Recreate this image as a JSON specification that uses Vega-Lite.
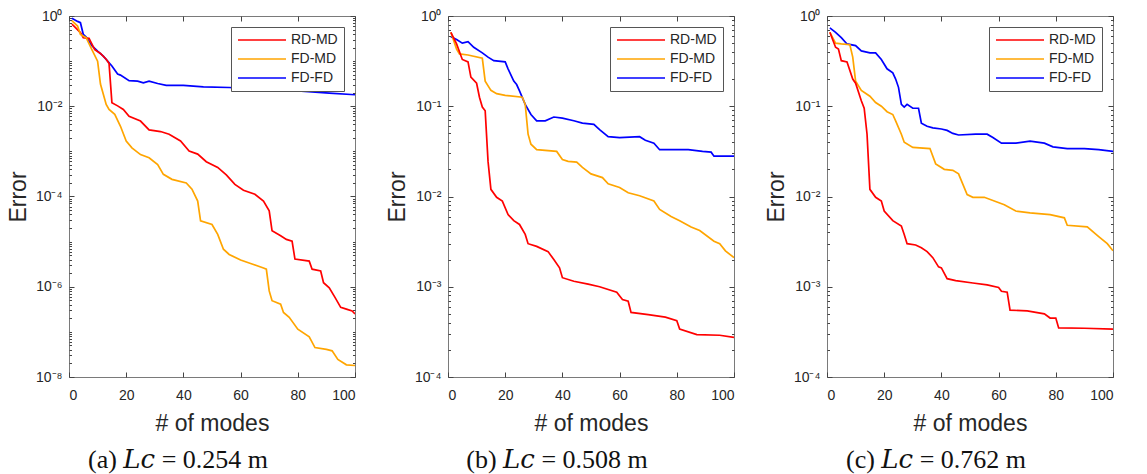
{
  "$schema": "https://vega.github.io/schema/vega-lite/v6.json",
  "background": "white",
  "padding": {"left": 6, "top": 8, "right": 5, "bottom": 2},
  "bounds": "flush",
  "spacing": 93,
  "config": {
    "font": "Liberation Sans",
    "view": {"stroke": "#7a7a7a", "strokeWidth": 1},
    "axis": {
      "domain": false,
      "grid": false,
      "tickColor": "#444444",
      "labelColor": "#262626",
      "labelFontSize": 14,
      "labelOverlap": false,
      "titleColor": "#262626",
      "titleFontSize": 23,
      "titleFontWeight": "normal"
    },
    "legend": {
      "orient": "top-right",
      "offset": 11,
      "title": null,
      "strokeColor": "#555555",
      "fillColor": "white",
      "padding": 6,
      "labelFontSize": 14,
      "labelColor": "#262626",
      "symbolType": "M-4,0H4",
      "symbolSize": 144,
      "symbolOffset": 18,
      "labelOffset": 22,
      "symbolStrokeWidth": 1.5,
      "rowPadding": 5
    },
    "title": {"font": "Liberation Serif, DejaVu Serif", "fontSize": 26, "fontWeight": "normal", "color": "#111111"}
  },
  "datasets": {
    "a": [
      {"s":"FD-FD","n":1,"e":0.89},{"s":"FD-FD","n":3,"e":0.76},{"s":"FD-FD","n":4,"e":0.71},{"s":"FD-FD","n":5,"e":0.39},{"s":"FD-FD","n":6,"e":0.34},{"s":"FD-FD","n":8,"e":0.22},{"s":"FD-FD","n":10,"e":0.166},{"s":"FD-FD","n":12,"e":0.129},{"s":"FD-FD","n":15,"e":0.078},{"s":"FD-FD","n":17,"e":0.052},{"s":"FD-FD","n":18,"e":0.049},{"s":"FD-FD","n":21,"e":0.037},{"s":"FD-FD","n":24,"e":0.036},{"s":"FD-FD","n":26,"e":0.033},{"s":"FD-FD","n":28,"e":0.036},{"s":"FD-FD","n":31,"e":0.032},{"s":"FD-FD","n":34,"e":0.029},{"s":"FD-FD","n":40,"e":0.029},{"s":"FD-FD","n":47,"e":0.027},{"s":"FD-FD","n":56,"e":0.026},{"s":"FD-FD","n":62,"e":0.025},{"s":"FD-FD","n":68,"e":0.024},{"s":"FD-FD","n":80,"e":0.022},{"s":"FD-FD","n":91,"e":0.0195},{"s":"FD-FD","n":100,"e":0.018},
      {"s":"RD-MD","n":1,"e":0.66},{"s":"RD-MD","n":2,"e":0.575},{"s":"RD-MD","n":4,"e":0.43},{"s":"RD-MD","n":5,"e":0.33},{"s":"RD-MD","n":7,"e":0.32},{"s":"RD-MD","n":9,"e":0.18},{"s":"RD-MD","n":11,"e":0.148},{"s":"RD-MD","n":13,"e":0.11},{"s":"RD-MD","n":14,"e":0.089},{"s":"RD-MD","n":15,"e":0.012},{"s":"RD-MD","n":17,"e":0.0102},{"s":"RD-MD","n":19,"e":0.0085},{"s":"RD-MD","n":21,"e":0.006},{"s":"RD-MD","n":25,"e":0.0047},{"s":"RD-MD","n":28,"e":0.003},{"s":"RD-MD","n":32,"e":0.00275},{"s":"RD-MD","n":35,"e":0.0024},{"s":"RD-MD","n":39,"e":0.0017},{"s":"RD-MD","n":42,"e":0.00102},{"s":"RD-MD","n":45,"e":0.00087},{"s":"RD-MD","n":48,"e":0.00059},{"s":"RD-MD","n":52,"e":0.00044},{"s":"RD-MD","n":55,"e":0.0003},{"s":"RD-MD","n":58,"e":0.000186},{"s":"RD-MD","n":61,"e":0.000138},{"s":"RD-MD","n":65,"e":0.000112},{"s":"RD-MD","n":68,"e":0.000079},{"s":"RD-MD","n":70,"e":0.000048},{"s":"RD-MD","n":71,"e":0.0000174},{"s":"RD-MD","n":74,"e":0.0000135},{"s":"RD-MD","n":76,"e":0.0000112},{"s":"RD-MD","n":78,"e":0.0000102},{"s":"RD-MD","n":79,"e":0.0000041},{"s":"RD-MD","n":84,"e":0.0000037},{"s":"RD-MD","n":85,"e":0.00000245},{"s":"RD-MD","n":88,"e":0.00000224},{"s":"RD-MD","n":89,"e":0.00000123},{"s":"RD-MD","n":91,"e":0.00000095},{"s":"RD-MD","n":93,"e":0.00000058},{"s":"RD-MD","n":95,"e":0.00000035},{"s":"RD-MD","n":97,"e":0.00000032},{"s":"RD-MD","n":99,"e":0.00000029},{"s":"RD-MD","n":100,"e":0.00000025},
      {"s":"FD-MD","n":1,"e":0.79},{"s":"FD-MD","n":3,"e":0.6},{"s":"FD-MD","n":4,"e":0.39},{"s":"FD-MD","n":6,"e":0.33},{"s":"FD-MD","n":8,"e":0.18},{"s":"FD-MD","n":10,"e":0.1},{"s":"FD-MD","n":11,"e":0.031},{"s":"FD-MD","n":13,"e":0.011},{"s":"FD-MD","n":14,"e":0.0085},{"s":"FD-MD","n":16,"e":0.0066},{"s":"FD-MD","n":18,"e":0.0036},{"s":"FD-MD","n":20,"e":0.0017},{"s":"FD-MD","n":22,"e":0.0012},{"s":"FD-MD","n":25,"e":0.00085},{"s":"FD-MD","n":28,"e":0.00072},{"s":"FD-MD","n":31,"e":0.00051},{"s":"FD-MD","n":33,"e":0.00031},{"s":"FD-MD","n":36,"e":0.00024},{"s":"FD-MD","n":41,"e":0.0002},{"s":"FD-MD","n":43,"e":0.000145},{"s":"FD-MD","n":45,"e":0.000079},{"s":"FD-MD","n":46,"e":0.000029},{"s":"FD-MD","n":50,"e":0.000024},{"s":"FD-MD","n":52,"e":0.0000145},{"s":"FD-MD","n":54,"e":0.0000068},{"s":"FD-MD","n":56,"e":0.0000052},{"s":"FD-MD","n":60,"e":0.0000039},{"s":"FD-MD","n":64,"e":0.0000032},{"s":"FD-MD","n":68,"e":0.0000026},{"s":"FD-MD","n":69,"e":0.00000245},{"s":"FD-MD","n":70,"e":0.00000081},{"s":"FD-MD","n":71,"e":0.00000049},{"s":"FD-MD","n":74,"e":0.00000041},{"s":"FD-MD","n":75,"e":0.00000027},{"s":"FD-MD","n":77,"e":0.00000021},{"s":"FD-MD","n":80,"e":0.000000115},{"s":"FD-MD","n":84,"e":0.000000078},{"s":"FD-MD","n":86,"e":0.000000045},{"s":"FD-MD","n":90,"e":0.000000041},{"s":"FD-MD","n":92,"e":0.000000038},{"s":"FD-MD","n":94,"e":0.0000000245},{"s":"FD-MD","n":97,"e":0.0000000186},{"s":"FD-MD","n":100,"e":0.000000018}
    ],
    "b": [
      {"s":"FD-FD","n":1,"e":0.59},{"s":"FD-FD","n":3,"e":0.55},{"s":"FD-FD","n":5,"e":0.5},{"s":"FD-FD","n":7,"e":0.52},{"s":"FD-FD","n":9,"e":0.45},{"s":"FD-FD","n":12,"e":0.39},{"s":"FD-FD","n":14,"e":0.35},{"s":"FD-FD","n":16,"e":0.32},{"s":"FD-FD","n":20,"e":0.31},{"s":"FD-FD","n":21,"e":0.26},{"s":"FD-FD","n":23,"e":0.19},{"s":"FD-FD","n":24,"e":0.174},{"s":"FD-FD","n":25,"e":0.148},{"s":"FD-FD","n":27,"e":0.105},{"s":"FD-FD","n":29,"e":0.081},{"s":"FD-FD","n":31,"e":0.069},{"s":"FD-FD","n":34,"e":0.069},{"s":"FD-FD","n":37,"e":0.076},{"s":"FD-FD","n":40,"e":0.074},{"s":"FD-FD","n":44,"e":0.069},{"s":"FD-FD","n":47,"e":0.065},{"s":"FD-FD","n":51,"e":0.063},{"s":"FD-FD","n":53,"e":0.055},{"s":"FD-FD","n":56,"e":0.046},{"s":"FD-FD","n":60,"e":0.045},{"s":"FD-FD","n":67,"e":0.046},{"s":"FD-FD","n":69,"e":0.042},{"s":"FD-FD","n":72,"e":0.039},{"s":"FD-FD","n":74,"e":0.033},{"s":"FD-FD","n":78,"e":0.033},{"s":"FD-FD","n":84,"e":0.033},{"s":"FD-FD","n":89,"e":0.0316},{"s":"FD-FD","n":92,"e":0.031},{"s":"FD-FD","n":93,"e":0.028},{"s":"FD-FD","n":100,"e":0.028},
      {"s":"FD-MD","n":1,"e":0.66},{"s":"FD-MD","n":3,"e":0.43},{"s":"FD-MD","n":4,"e":0.38},{"s":"FD-MD","n":7,"e":0.37},{"s":"FD-MD","n":12,"e":0.34},{"s":"FD-MD","n":13,"e":0.19},{"s":"FD-MD","n":15,"e":0.15},{"s":"FD-MD","n":17,"e":0.138},{"s":"FD-MD","n":20,"e":0.132},{"s":"FD-MD","n":26,"e":0.126},{"s":"FD-MD","n":27,"e":0.105},{"s":"FD-MD","n":28,"e":0.049},{"s":"FD-MD","n":29,"e":0.038},{"s":"FD-MD","n":31,"e":0.033},{"s":"FD-MD","n":38,"e":0.0316},{"s":"FD-MD","n":40,"e":0.0257},{"s":"FD-MD","n":42,"e":0.0245},{"s":"FD-MD","n":45,"e":0.024},{"s":"FD-MD","n":47,"e":0.021},{"s":"FD-MD","n":50,"e":0.0178},{"s":"FD-MD","n":54,"e":0.0162},{"s":"FD-MD","n":56,"e":0.0138},{"s":"FD-MD","n":60,"e":0.0126},{"s":"FD-MD","n":63,"e":0.011},{"s":"FD-MD","n":67,"e":0.0102},{"s":"FD-MD","n":72,"e":0.0089},{"s":"FD-MD","n":74,"e":0.0072},{"s":"FD-MD","n":78,"e":0.006},{"s":"FD-MD","n":81,"e":0.0054},{"s":"FD-MD","n":85,"e":0.0046},{"s":"FD-MD","n":88,"e":0.0042},{"s":"FD-MD","n":93,"e":0.0032},{"s":"FD-MD","n":95,"e":0.003},{"s":"FD-MD","n":97,"e":0.0025},{"s":"FD-MD","n":100,"e":0.0021},
      {"s":"RD-MD","n":1,"e":0.66},{"s":"RD-MD","n":3,"e":0.49},{"s":"RD-MD","n":5,"e":0.33},{"s":"RD-MD","n":7,"e":0.31},{"s":"RD-MD","n":8,"e":0.21},{"s":"RD-MD","n":10,"e":0.18},{"s":"RD-MD","n":11,"e":0.126},{"s":"RD-MD","n":12,"e":0.098},{"s":"RD-MD","n":13,"e":0.089},{"s":"RD-MD","n":14,"e":0.0245},{"s":"RD-MD","n":15,"e":0.012},{"s":"RD-MD","n":17,"e":0.0098},{"s":"RD-MD","n":19,"e":0.0089},{"s":"RD-MD","n":21,"e":0.0063},{"s":"RD-MD","n":23,"e":0.0054},{"s":"RD-MD","n":25,"e":0.0049},{"s":"RD-MD","n":27,"e":0.0038},{"s":"RD-MD","n":28,"e":0.003},{"s":"RD-MD","n":31,"e":0.0028},{"s":"RD-MD","n":35,"e":0.00245},{"s":"RD-MD","n":37,"e":0.002},{"s":"RD-MD","n":39,"e":0.00162},{"s":"RD-MD","n":40,"e":0.00126},{"s":"RD-MD","n":44,"e":0.00115},{"s":"RD-MD","n":49,"e":0.00107},{"s":"RD-MD","n":53,"e":0.001},{"s":"RD-MD","n":59,"e":0.00087},{"s":"RD-MD","n":61,"e":0.00072},{"s":"RD-MD","n":63,"e":0.00069},{"s":"RD-MD","n":64,"e":0.00052},{"s":"RD-MD","n":70,"e":0.00049},{"s":"RD-MD","n":76,"e":0.00046},{"s":"RD-MD","n":80,"e":0.00042},{"s":"RD-MD","n":81,"e":0.00034},{"s":"RD-MD","n":87,"e":0.000295},{"s":"RD-MD","n":95,"e":0.00029},{"s":"RD-MD","n":100,"e":0.000275}
    ],
    "c": [
      {"s":"FD-FD","n":1,"e":0.74},{"s":"FD-FD","n":3,"e":0.66},{"s":"FD-FD","n":5,"e":0.575},{"s":"FD-FD","n":7,"e":0.49},{"s":"FD-FD","n":10,"e":0.47},{"s":"FD-FD","n":12,"e":0.41},{"s":"FD-FD","n":15,"e":0.39},{"s":"FD-FD","n":17,"e":0.39},{"s":"FD-FD","n":19,"e":0.33},{"s":"FD-FD","n":21,"e":0.26},{"s":"FD-FD","n":23,"e":0.234},{"s":"FD-FD","n":24,"e":0.2},{"s":"FD-FD","n":25,"e":0.162},{"s":"FD-FD","n":26,"e":0.105},{"s":"FD-FD","n":27,"e":0.098},{"s":"FD-FD","n":28,"e":0.105},{"s":"FD-FD","n":30,"e":0.095},{"s":"FD-FD","n":32,"e":0.095},{"s":"FD-FD","n":33,"e":0.065},{"s":"FD-FD","n":35,"e":0.06},{"s":"FD-FD","n":37,"e":0.0575},{"s":"FD-FD","n":40,"e":0.056},{"s":"FD-FD","n":42,"e":0.054},{"s":"FD-FD","n":44,"e":0.05},{"s":"FD-FD","n":46,"e":0.048},{"s":"FD-FD","n":52,"e":0.049},{"s":"FD-FD","n":56,"e":0.049},{"s":"FD-FD","n":58,"e":0.045},{"s":"FD-FD","n":61,"e":0.039},{"s":"FD-FD","n":66,"e":0.039},{"s":"FD-FD","n":71,"e":0.041},{"s":"FD-FD","n":76,"e":0.039},{"s":"FD-FD","n":79,"e":0.0355},{"s":"FD-FD","n":84,"e":0.034},{"s":"FD-FD","n":90,"e":0.034},{"s":"FD-FD","n":95,"e":0.033},{"s":"FD-FD","n":100,"e":0.0316},
      {"s":"FD-MD","n":1,"e":0.66},{"s":"FD-MD","n":3,"e":0.5},{"s":"FD-MD","n":5,"e":0.49},{"s":"FD-MD","n":8,"e":0.48},{"s":"FD-MD","n":9,"e":0.35},{"s":"FD-MD","n":10,"e":0.19},{"s":"FD-MD","n":12,"e":0.15},{"s":"FD-MD","n":15,"e":0.129},{"s":"FD-MD","n":17,"e":0.11},{"s":"FD-MD","n":19,"e":0.1},{"s":"FD-MD","n":21,"e":0.087},{"s":"FD-MD","n":23,"e":0.081},{"s":"FD-MD","n":24,"e":0.069},{"s":"FD-MD","n":26,"e":0.049},{"s":"FD-MD","n":27,"e":0.04},{"s":"FD-MD","n":30,"e":0.035},{"s":"FD-MD","n":36,"e":0.034},{"s":"FD-MD","n":38,"e":0.023},{"s":"FD-MD","n":41,"e":0.02},{"s":"FD-MD","n":44,"e":0.0195},{"s":"FD-MD","n":46,"e":0.0178},{"s":"FD-MD","n":49,"e":0.0105},{"s":"FD-MD","n":51,"e":0.0098},{"s":"FD-MD","n":55,"e":0.0098},{"s":"FD-MD","n":62,"e":0.0081},{"s":"FD-MD","n":66,"e":0.0069},{"s":"FD-MD","n":71,"e":0.0066},{"s":"FD-MD","n":78,"e":0.0063},{"s":"FD-MD","n":83,"e":0.0058},{"s":"FD-MD","n":84,"e":0.0048},{"s":"FD-MD","n":91,"e":0.0046},{"s":"FD-MD","n":95,"e":0.0036},{"s":"FD-MD","n":98,"e":0.003},{"s":"FD-MD","n":100,"e":0.0025},
      {"s":"RD-MD","n":1,"e":0.66},{"s":"RD-MD","n":3,"e":0.45},{"s":"RD-MD","n":4,"e":0.43},{"s":"RD-MD","n":5,"e":0.32},{"s":"RD-MD","n":7,"e":0.31},{"s":"RD-MD","n":9,"e":0.2},{"s":"RD-MD","n":10,"e":0.18},{"s":"RD-MD","n":12,"e":0.115},{"s":"RD-MD","n":13,"e":0.095},{"s":"RD-MD","n":14,"e":0.049},{"s":"RD-MD","n":15,"e":0.012},{"s":"RD-MD","n":17,"e":0.0098},{"s":"RD-MD","n":19,"e":0.0089},{"s":"RD-MD","n":20,"e":0.0069},{"s":"RD-MD","n":23,"e":0.0054},{"s":"RD-MD","n":26,"e":0.0047},{"s":"RD-MD","n":27,"e":0.0038},{"s":"RD-MD","n":28,"e":0.003},{"s":"RD-MD","n":31,"e":0.0029},{"s":"RD-MD","n":33,"e":0.0027},{"s":"RD-MD","n":35,"e":0.00245},{"s":"RD-MD","n":37,"e":0.0021},{"s":"RD-MD","n":39,"e":0.00166},{"s":"RD-MD","n":40,"e":0.00162},{"s":"RD-MD","n":42,"e":0.00123},{"s":"RD-MD","n":45,"e":0.00117},{"s":"RD-MD","n":51,"e":0.0011},{"s":"RD-MD","n":56,"e":0.00105},{"s":"RD-MD","n":60,"e":0.00098},{"s":"RD-MD","n":61,"e":0.00089},{"s":"RD-MD","n":63,"e":0.00087},{"s":"RD-MD","n":64,"e":0.00055},{"s":"RD-MD","n":70,"e":0.00054},{"s":"RD-MD","n":76,"e":0.0005},{"s":"RD-MD","n":78,"e":0.00045},{"s":"RD-MD","n":80,"e":0.00045},{"s":"RD-MD","n":81,"e":0.00035},{"s":"RD-MD","n":90,"e":0.000347},{"s":"RD-MD","n":100,"e":0.00034}
    ]
  },
  "resolve": {"scale": {"color": "independent"}, "legend": {"color": "independent"}},
  "hconcat": [
    {
      "width": 286, "height": 361,
      "data": {"name": "a"},
      "title": {"text": "(a) 𝐿𝑐 = 0.254 m", "orient": "bottom", "offset": 12, "dx": -34},
      "resolve": {"axis": {"x": "independent", "y": "independent"}},
      "layer": [
        {
          "mark": {"type": "line", "strokeWidth": 1.7, "clip": true},
          "encoding": {
            "x": {"field": "n", "type": "quantitative", "scale": {"domain": [0, 100], "nice": false}, "axis": {"values": [0, 20, 40, 60, 80, 100], "tickSize": -5, "labelPadding": 16, "title": "# of modes", "titlePadding": 10}},
            "y": {"field": "e", "type": "quantitative", "scale": {"type": "log", "domain": [1e-8, 1], "nice": false}, "axis": {"tickCount": 30, "tickSize": {"condition": {"test": "abs(log(datum.value)/LN10 - round(log(datum.value)/LN10)) < 0.001 && round(log(datum.value)/LN10) % 2 == 0", "value": -5}, "value": -2.5}, "labelPadding": 12, "labelExpr": "abs(log(datum.value)/LN10 - round(log(datum.value)/LN10)) < 0.001 && round(log(datum.value)/LN10) % 2 == 0 ? '10' + (datum.value < 0.5 ? '⁻' : '') + substring('⁰¹²³⁴⁵⁶⁷⁸⁹', abs(round(log(datum.value)/LN10)), abs(round(log(datum.value)/LN10)) + 1) : ''", "title": "Error", "titlePadding": 5}},
            "color": {"field": "s", "type": "nominal", "scale": {"domain": ["RD-MD", "FD-MD", "FD-FD"], "range": ["#ff0000", "#ffa500", "#0000ff"]}}
          }
        },
        {
          "mark": {"type": "line", "opacity": 0},
          "encoding": {
            "detail": {"field": "s"},
            "x": {"field": "n", "type": "quantitative", "scale": {"domain": [0, 100], "nice": false}, "axis": {"orient": "top", "values": [0, 20, 40, 60, 80, 100], "tickSize": -5, "labels": false, "title": null}},
            "y": {"field": "e", "type": "quantitative", "scale": {"type": "log", "domain": [1e-8, 1], "nice": false}, "axis": {"orient": "right", "tickCount": 30, "tickSize": {"condition": {"test": "abs(log(datum.value)/LN10 - round(log(datum.value)/LN10)) < 0.001 && round(log(datum.value)/LN10) % 2 == 0", "value": -5}, "value": -2.5}, "labels": false, "title": null}}
          }
        }
      ]
    },
    {
      "width": 286, "height": 361,
      "data": {"name": "b"},
      "title": {"text": "(b) 𝐿𝑐 = 0.508 m", "orient": "bottom", "offset": 12, "dx": -34},
      "resolve": {"axis": {"x": "independent", "y": "independent"}},
      "layer": [
        {
          "mark": {"type": "line", "strokeWidth": 1.7, "clip": true},
          "encoding": {
            "x": {"field": "n", "type": "quantitative", "scale": {"domain": [0, 100], "nice": false}, "axis": {"values": [0, 20, 40, 60, 80, 100], "tickSize": -5, "labelPadding": 16, "title": "# of modes", "titlePadding": 10}},
            "y": {"field": "e", "type": "quantitative", "scale": {"type": "log", "domain": [0.0001, 1], "nice": false}, "axis": {"tickCount": 30, "tickSize": {"condition": {"test": "abs(log(datum.value)/LN10 - round(log(datum.value)/LN10)) < 0.001", "value": -5}, "value": -2.5}, "labelPadding": 12, "labelExpr": "abs(log(datum.value)/LN10 - round(log(datum.value)/LN10)) < 0.001 ? '10' + (datum.value < 0.5 ? '⁻' : '') + substring('⁰¹²³⁴⁵⁶⁷⁸⁹', abs(round(log(datum.value)/LN10)), abs(round(log(datum.value)/LN10)) + 1) : ''", "title": "Error", "titlePadding": 5}},
            "color": {"field": "s", "type": "nominal", "scale": {"domain": ["RD-MD", "FD-MD", "FD-FD"], "range": ["#ff0000", "#ffa500", "#0000ff"]}}
          }
        },
        {
          "mark": {"type": "line", "opacity": 0},
          "encoding": {
            "detail": {"field": "s"},
            "x": {"field": "n", "type": "quantitative", "scale": {"domain": [0, 100], "nice": false}, "axis": {"orient": "top", "values": [0, 20, 40, 60, 80, 100], "tickSize": -5, "labels": false, "title": null}},
            "y": {"field": "e", "type": "quantitative", "scale": {"type": "log", "domain": [0.0001, 1], "nice": false}, "axis": {"orient": "right", "tickCount": 30, "tickSize": {"condition": {"test": "abs(log(datum.value)/LN10 - round(log(datum.value)/LN10)) < 0.001", "value": -5}, "value": -2.5}, "labels": false, "title": null}}
          }
        }
      ]
    },
    {
      "width": 286, "height": 361,
      "data": {"name": "c"},
      "title": {"text": "(c) 𝐿𝑐 = 0.762 m", "orient": "bottom", "offset": 12, "dx": -34},
      "resolve": {"axis": {"x": "independent", "y": "independent"}},
      "layer": [
        {
          "mark": {"type": "line", "strokeWidth": 1.7, "clip": true},
          "encoding": {
            "x": {"field": "n", "type": "quantitative", "scale": {"domain": [0, 100], "nice": false}, "axis": {"values": [0, 20, 40, 60, 80, 100], "tickSize": -5, "labelPadding": 16, "title": "# of modes", "titlePadding": 10}},
            "y": {"field": "e", "type": "quantitative", "scale": {"type": "log", "domain": [0.0001, 1], "nice": false}, "axis": {"tickCount": 30, "tickSize": {"condition": {"test": "abs(log(datum.value)/LN10 - round(log(datum.value)/LN10)) < 0.001", "value": -5}, "value": -2.5}, "labelPadding": 12, "labelExpr": "abs(log(datum.value)/LN10 - round(log(datum.value)/LN10)) < 0.001 ? '10' + (datum.value < 0.5 ? '⁻' : '') + substring('⁰¹²³⁴⁵⁶⁷⁸⁹', abs(round(log(datum.value)/LN10)), abs(round(log(datum.value)/LN10)) + 1) : ''", "title": "Error", "titlePadding": 5}},
            "color": {"field": "s", "type": "nominal", "scale": {"domain": ["RD-MD", "FD-MD", "FD-FD"], "range": ["#ff0000", "#ffa500", "#0000ff"]}}
          }
        },
        {
          "mark": {"type": "line", "opacity": 0},
          "encoding": {
            "detail": {"field": "s"},
            "x": {"field": "n", "type": "quantitative", "scale": {"domain": [0, 100], "nice": false}, "axis": {"orient": "top", "values": [0, 20, 40, 60, 80, 100], "tickSize": -5, "labels": false, "title": null}},
            "y": {"field": "e", "type": "quantitative", "scale": {"type": "log", "domain": [0.0001, 1], "nice": false}, "axis": {"orient": "right", "tickCount": 30, "tickSize": {"condition": {"test": "abs(log(datum.value)/LN10 - round(log(datum.value)/LN10)) < 0.001", "value": -5}, "value": -2.5}, "labels": false, "title": null}}
          }
        }
      ]
    }
  ]
}
